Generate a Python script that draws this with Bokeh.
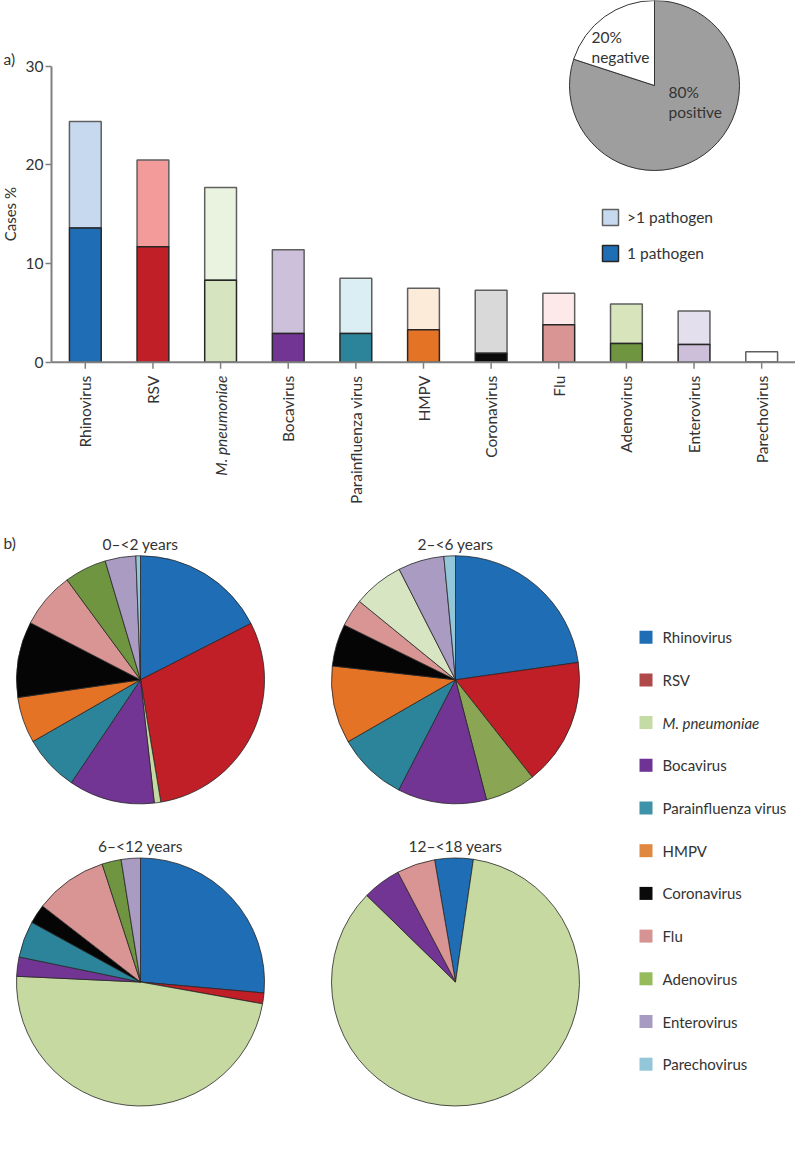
import numpy as np
from bokeh.plotting import figure
from bokeh.models import (ColumnDataSource, Range1d, FixedTicker, Legend, LegendItem,
                          LinearScale, Span)
from bokeh.layouts import row
from bokeh.embed import file_html
from bokeh.resources import INLINE
from bokeh.core.properties import value

# ---------------- data ----------------
pathogens = ["Rhinovirus", "RSV", "M. pneumoniae", "Bocavirus", "Parainfluenza virus",
             "HMPV", "Coronavirus", "Flu", "Adenovirus", "Enterovirus", "Parechovirus"]
italic_names = ["M. pneumoniae"]
one_pathogen = [13.6, 11.7, 8.3, 2.9, 2.9, 3.3, 0.9, 3.8, 1.9, 1.8, 0.0]
all_cases = [24.4, 20.5, 17.7, 11.4, 8.5, 7.5, 7.3, 7.0, 5.9, 5.2, 1.05]
y_ticks = [0, 10, 20, 30]

overall_labels = ["positive", "negative"]
overall_values = [80, 20]

age_groups = ["0–<2 years", "2–<6 years", "6–<12 years", "12–<18 years"]
share_0_2 = [17.5, 29.9, 0.85, 11.2, 7.3, 6.0, 9.9, 7.3, 5.5, 4.0, 0.6]
share_2_6 = [22.75, 16.6, 6.6, 11.6, 9.1, 10.1, 5.5, 3.6, 6.6, 6.0, 1.5]
share_6_12 = [26.4, 1.4, 47.9, 2.5, 4.75, 0.0, 2.5, 9.5, 2.5, 2.5, 0.0]
share_12_18 = [5.0, 0.0, 85.0, 5.0, 0.0, 0.0, 0.0, 5.0, 0.0, 0.0, 0.0]
age_shares = [share_0_2, share_2_6, share_6_12, share_12_18]

# ---------------- styles ----------------
FONT = "Lato"
FS = "15.5px"
TXT = "#333333"
single_colors = ["#1f6db5", "#c01f27", "#d6e4bf", "#733594", "#2b849a", "#e57325",
                 "#0a0a0a", "#d99594", "#6f9540", "#cdbfda", "#ffffff"]
multi_colors = ["#c6d9ef", "#f39b9b", "#eaf3e0", "#ccc0da", "#daeef3", "#fdebda",
                "#d9d9d9", "#fde9e9", "#d8e4bc", "#e4dfec", "#ffffff"]
pie_colors = ["#1f6db5", "#c01f27", "#c5d9a1", "#733594", "#2b849a", "#e57325",
              "#050505", "#d99594", "#6f9540", "#a99bc1", "#93c6d8"]
pie_color_overrides = {1: {2: "#8aa654", 8: "#d8e5c2"}}
legend_colors = ["#1f6db5", "#b04a4a", "#c5dba5", "#6e3394", "#3d93a8", "#e0883f",
                 "#0a0a0a", "#d59393", "#95bb5b", "#a89bc2", "#93c6d8"]
AXIS_GREY = "#808080"

W = 795
HT = 510
HB = 640
LW = 20                 # narrow strip holding "a)" and the y-axis title
AXL = 51                # page x of the y axis
FW = W - AXL
NCAT = len(pathogens)


def fx(xp):
    # page x -> synthetic coordinate of the categorical x range
    return (xp - AXL) / FW * NCAT


# ---------------- panel a ----------------
y0_px, y30_px = 361.7, 65.7
scale = (y0_px - y30_px) / 30.0
y_start, y_end = -(HT - y0_px) / scale, 30 + y30_px / scale

strip = figure(width=LW, height=HT, x_range=Range1d(0, LW), y_range=Range1d(y_start, y_end),
               x_axis_type=None, y_axis_type=None, output_backend="svg",
               toolbar_location=None, title_location=None, min_border=0,
               outline_line_color=None)
strip.grid.visible = False
strip.text(x=[3], y=[30.75], text=["a)"], text_align="left", text_baseline="middle",
           text_font=value(FONT), text_font_size=FS, text_color=TXT)
strip.text(x=[9.5], y=[15], text=["Cases %"], angle=np.pi / 2, text_align="center",
           text_baseline="middle", text_font=value(FONT), text_font_size="15px",
           text_color=TXT)

top = figure(width=W - LW, height=HT, x_range=pathogens, y_range=Range1d(y_start, y_end),
             output_backend="svg", toolbar_location=None, title_location=None,
             min_border=0, min_border_left=AXL - LW, outline_line_color=None)
top.x_range.range_padding = 0
top.grid.visible = False
top.extra_y_ranges = {"py": Range1d(0, HT)}
top.extra_y_scales = {"py": LinearScale()}

src = ColumnDataSource(dict(name=pathogens, one=one_pathogen, total=all_cases,
                            c_one=single_colors, c_multi=multi_colors))
r_multi = top.vbar(x="name", width=0.47, bottom="one", top="total", source=src,
                   fill_color="c_multi", line_color="#5f5f5f", line_width=1.5)
r_one = top.vbar(x="name", width=0.47, bottom=0, top="one", source=src,
                 fill_color="c_one", line_color="#262626", line_width=1.5)

yax = top.yaxis[0]
yax.bounds = (0, 30)
yax.ticker = FixedTicker(ticks=y_ticks)
yax.axis_line_color = AXIS_GREY
yax.axis_line_width = 2
yax.major_tick_line_color = AXIS_GREY
yax.major_tick_line_width = 1.5
yax.major_tick_out = 6
yax.major_tick_in = 0
yax.minor_tick_line_color = None
yax.major_label_text_font = FONT
yax.major_label_text_font_size = FS
yax.major_label_text_color = TXT
yax.major_label_standoff = 2

# category axis: baseline at 0, ticks below it, rotated labels
top.xaxis.visible = False
top.add_layout(Span(location=0, dimension="width", line_color=AXIS_GREY, line_width=2))
top.segment(x0=pathogens, y0=[0] * NCAT, x1=pathogens, y1=[-6.5 / scale] * NCAT,
            line_color=AXIS_GREY, line_width=1.5)

normal = [n for n in pathogens if n not in italic_names]
ital = [n for n in pathogens if n in italic_names]
for names, style in ((normal, "normal"), (ital, "italic")):
    top.text(x=names, y=[0] * len(names), text=names, angle=np.pi / 2, y_offset=13.5,
             text_align="right", text_baseline="middle", text_font=value(FONT),
             text_font_size=FS, text_font_style=style, text_color=TXT)

# overall positive / negative pie
ov = np.array(overall_values, dtype=float)
ofr = ov / ov.sum() * 2 * np.pi
oa1 = np.cumsum(ofr)
oa0 = oa1 - ofr
top.wedge(x=[fx(654)] * len(ov), y=[HT - 85] * len(ov), radius=85, radius_units="screen",
          start_angle=list(np.pi / 2 - oa1), end_angle=list(np.pi / 2 - oa0),
          fill_color=["#9e9e9e", "#ffffff"], line_color="#333333", line_width=1,
          y_range_name="py")
pie_txt = [("20%", 591, 36), ("negative", 591, 56), ("80%", 668, 91), ("positive", 668, 111)]
top.text(x=[fx(t[1]) for t in pie_txt], y=[HT - t[2] for t in pie_txt],
         text=[t[0] for t in pie_txt], text_align="left", text_baseline="middle",
         text_font=value(FONT), text_font_size=FS, text_color=TXT,
         y_range_name="py")

leg = Legend(items=[LegendItem(label=">1 pathogen", renderers=[r_multi], index=0),
                    LegendItem(label="1 pathogen", renderers=[r_one], index=0)],
             location=(600 - AXL, HT - 207.3 - 56), glyph_width=20, glyph_height=20,
             label_height=20, spacing=16, padding=0, margin=0, label_standoff=7,
             label_text_font=FONT, label_text_font_size=FS, label_text_color=TXT,
             border_line_color=None, background_fill_alpha=0)
top.add_layout(leg)

# ---------------- panel b ----------------
bot = figure(width=W, height=HB, x_range=Range1d(0, W), y_range=Range1d(0, HB),
             x_axis_type=None, y_axis_type=None, output_backend="svg",
             toolbar_location=None, title_location=None, min_border=0,
             outline_line_color=None)
bot.grid.visible = False


def by(yp):
    # page y -> y of the lower figure
    return HB - (yp - HT)


pie_centers = [(140, 679.3), (455, 679.3), (140, 981.5), (455, 981.5)]
pie_rot_deg = [0, 0, 0, -9.7]
R = 124
for gi, (shares, (cxp, cyp)) in enumerate(zip(age_shares, pie_centers)):
    v = np.array(shares, dtype=float)
    fr = v / v.sum() * 2 * np.pi
    a1 = np.cumsum(fr) + np.deg2rad(pie_rot_deg[gi])
    a0 = a1 - fr
    cols = list(pie_colors)
    for k, c in pie_color_overrides.get(gi, {}).items():
        cols[k] = c
    keep = v > 0
    n = int(keep.sum())
    d = dict(x=[cxp] * n, y=[by(cyp)] * n,
             s=list(np.pi / 2 - a1[keep]), e=list(np.pi / 2 - a0[keep]),
             c=[c for c, k in zip(cols, keep) if k],
             name=[p for p, k in zip(pathogens, keep) if k])
    bot.wedge(x="x", y="y", radius=R, radius_units="screen", start_angle="s", end_angle="e",
              fill_color="c", line_color="#262626", line_width=0.8,
              source=ColumnDataSource(d))
    bot.text(x=[cxp], y=[by(cyp - 136)], text=[age_groups[gi]], text_align="center",
             text_baseline="middle", text_font=value(FONT), text_font_size=FS,
             text_color=TXT)

bot.text(x=[3], y=[by(542)], text=["b)"], text_align="left", text_baseline="middle",
         text_font=value(FONT), text_font_size=FS, text_color=TXT)

# legend of the pies
row_y = [by(636.7 + 42.7 * i) for i in range(NCAT)]
bot.scatter(x=[645.5] * NCAT, y=row_y, marker="square", size=13,
            fill_color=legend_colors, line_color=None)
for style in ("normal", "italic"):
    idx = [i for i, p in enumerate(pathogens) if (p in italic_names) == (style == "italic")]
    bot.text(x=[662] * len(idx), y=[row_y[i] for i in idx], text=[pathogens[i] for i in idx],
             text_align="left", text_baseline="middle", text_font=value(FONT),
             text_font_size="15px", text_font_style=style, text_color=TXT)

open("out.html", "w").write(file_html([row(strip, top), bot], INLINE))
